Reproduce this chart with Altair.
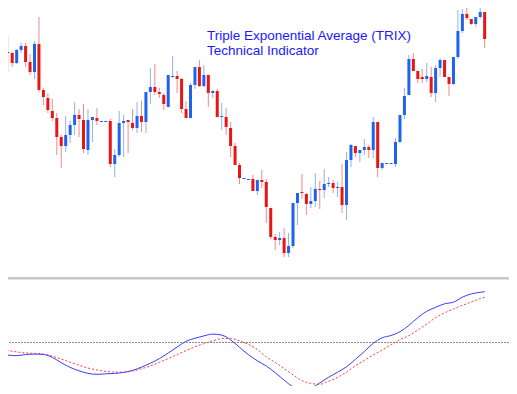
import altair as alt
import pandas as pd

# ---------------- data (price units, bar index) ----------------
bars = list(range(1, 111))
opens = [222, 237, 248, 247, 237, 250, 254, 238, 228, 256,
         210, 202, 189, 182, 163, 154, 165, 175, 185, 180,
         150, 180, 182, 179, 179, 179, 136, 145, 177, 180,
         177, 172, 184, 178, 208, 213, 208, 205, 193, 223,
         224, 221, 191, 182, 215, 233, 214, 225, 207, 209,
         183, 183, 172, 154, 135, 122, 121, 121, 109, 120,
         118, 92, 63, 60, 62, 47, 54, 97, 108, 106,
         96, 99, 111, 110, 117, 117, 112, 113, 95, 140,
         154, 147, 150, 153, 150, 178, 132, 137, 137, 136,
         158, 185, 205, 241, 229, 223, 221, 223, 207, 232,
         240, 223, 216, 243, 269, 286, 281, 276, 283, 288]
highs = [237, 255, 264, 248, 251, 257, 257, 246, 259, 283,
         212, 207, 201, 187, 165, 184, 179, 198, 191, 196,
         191, 183, 192, 179, 179, 181, 151, 189, 185, 180,
         191, 198, 199, 208, 232, 236, 212, 207, 225, 244,
         229, 222, 199, 217, 233, 240, 235, 225, 210, 211,
         197, 192, 178, 157, 137, 122, 121, 125, 120, 130,
         121, 92, 66, 68, 72, 67, 97, 107, 126, 107,
         113, 127, 119, 131, 123, 120, 118, 136, 148, 156,
         154, 150, 161, 155, 183, 178, 137, 137, 137, 162,
         185, 212, 245, 247, 229, 231, 237, 233, 235, 242,
         240, 223, 243, 290, 291, 297, 281, 283, 294, 288]
lows = [215, 229, 228, 233, 236, 247, 233, 225, 221, 208,
        195, 187, 179, 145, 132, 148, 157, 165, 163, 147,
        145, 158, 175, 179, 179, 133, 123, 143, 143, 147,
        170, 167, 168, 167, 196, 205, 202, 190, 193, 222,
        207, 187, 182, 182, 211, 213, 213, 193, 202, 183,
        170, 165, 143, 135, 116, 122, 121, 109, 105, 112,
        77, 61, 50, 55, 43, 43, 52, 75, 101, 85,
        92, 93, 91, 102, 113, 107, 103, 87, 80, 133,
        143, 138, 145, 142, 142, 123, 130, 137, 137, 133,
        157, 181, 205, 229, 217, 217, 218, 203, 198, 223,
        223, 204, 215, 241, 267, 280, 275, 273, 281, 252]
closes = [234, 248, 247, 237, 250, 254, 238, 228, 256, 210,
          203, 190, 182, 163, 154, 165, 175, 185, 181, 151,
          180, 183, 179, 179, 179, 136, 145, 177, 179, 178,
          172, 184, 178, 208, 213, 208, 206, 196, 225, 224,
          221, 191, 182, 215, 233, 214, 225, 207, 209, 183,
          184, 173, 154, 135, 122, 122, 121, 109, 120, 118,
          93, 63, 60, 62, 47, 54, 97, 107, 107, 96,
          99, 111, 110, 116, 117, 112, 113, 95, 140, 155,
          147, 150, 153, 150, 178, 132, 137, 137, 137, 158,
          185, 204, 241, 229, 221, 221, 224, 207, 232, 240,
          223, 216, 243, 269, 286, 282, 276, 283, 288, 261]

trix_bars = [1, 3, 5, 7, 9, 11, 13, 15, 17, 19,
             21, 23, 25, 27, 29, 31, 33, 35, 37, 39,
             41, 43, 45, 47, 49, 51, 53, 55, 57, 59,
             61, 63, 65, 67, 69, 71, 73, 75, 77, 79,
             81, 83, 85, 87, 89, 91, 93, 95, 97, 99,
             101, 103, 105, 107, 109, 110]
trix_values = [-11.8, -12.6, -13.2, -12.0, -11.6, -12.0, -14.8, -20.2, -24.9, -28.3,
               -30.9, -31.8, -31.3, -30.9, -29.9, -27.9, -24.7, -20.7, -16.2, -10.5,
               -4.5, 1.2, 4.2, 6.6, 8.4, 7.4, 2.7, -4.8, -12.2, -18.3,
               -23.5, -30.2, -37.6, -44.3, -47.3, -45.6, -40.5, -34.7, -29.7, -24.3,
               -16.9, -9.0, -0.8, 4.7, 7.0, 10.8, 17.1, 24.9, 31.2, 35.2,
               38.7, 40.3, 45.3, 48.6, 50.2, 50.8]
signal_values = [-5.5, -7.9, -9.4, -10.4, -10.9, -11.5, -13.7, -16.6, -19.7, -22.7,
                 -25.5, -27.4, -28.9, -29.5, -29.7, -28.5, -26.3, -23.4, -19.9, -16.1,
                 -12.1, -8.1, -4.3, -1.2, 1.6, 3.9, 4.1, 1.6, -1.9, -7.0,
                 -14.4, -19.9, -26.0, -32.4, -38.1, -40.9, -41.8, -38.7, -34.9, -29.6,
                 -23.4, -17.8, -12.4, -7.5, -2.3, 2.9, 6.9, 12.4, 18.3, 25.0,
                 29.6, 33.6, 37.2, 40.5, 43.8, 45.2]

title_lines = ["Triple Exponential Average (TRIX)", "Technical Indicator"]

# ---------------- styles ----------------
BLUE = "#1f62ec"
RED = "#e81515"
LINE_BLUE = "#3b3bff"
LINE_RED = "#ff3d2e"
TEXT_BLUE = "#1a1aff"
W, H = 501, 378

candles = pd.DataFrame({"bar": bars, "open": opens, "high": highs,
                        "low": lows, "close": closes})
candles["dir"] = ["up" if c >= o else "down" for o, c in zip(opens, closes)]
candles["body_end"] = [c if c != o else c - 1 for o, c in zip(opens, closes)]

trix_df = pd.DataFrame({"bar": trix_bars, "TRIX": trix_values, "Signal": signal_values})

x_scale = alt.Scale(domain=[3.055, 115.46], nice=False, zero=False)
price_scale = alt.Scale(domain=[-86, 292], nice=False, zero=False)
trix_scale = alt.Scale(domain=[-43.5, 334.5], nice=False, zero=False)
color_scale = alt.Scale(domain=["up", "down"], range=[BLUE, RED])

X = alt.X("bar:Q", scale=x_scale, axis=None)

wicks = alt.Chart(candles).mark_rule(strokeWidth=1, opacity=0.5, clip=True).encode(
    x=X,
    y=alt.Y("low:Q", scale=price_scale, axis=None),
    y2="high:Q",
    color=alt.Color("dir:N", scale=color_scale, legend=None),
)
bodies = alt.Chart(candles).mark_rule(strokeWidth=3, strokeCap="butt", clip=True).encode(
    x=X,
    y=alt.Y("open:Q", scale=price_scale, axis=None),
    y2="body_end:Q",
    color=alt.Color("dir:N", scale=color_scale, legend=None),
)

separator = alt.Chart(pd.DataFrame({"s": [0]})).mark_rule(
    color="#c8c8c8", strokeWidth=2.5
).encode(y=alt.value(270.2))

zero_line = alt.Chart(pd.DataFrame({"zero": [0]})).mark_rule(
    color="#6e6e6e", strokeWidth=1, strokeDash=[2, 1], opacity=0.8
).encode(y=alt.Y("zero:Q", scale=trix_scale, axis=None))

trix_line = alt.Chart(trix_df).mark_line(
    color=LINE_BLUE, strokeWidth=1, clip=True, interpolate="monotone"
).encode(x=X, y=alt.Y("TRIX:Q", scale=trix_scale, axis=None))

signal_line = alt.Chart(trix_df).mark_line(
    color=LINE_RED, strokeWidth=1, strokeDash=[2, 2], clip=True, interpolate="monotone"
).encode(x=X, y=alt.Y("Signal:Q", scale=trix_scale, axis=None))

text1 = alt.Chart(pd.DataFrame({"t": [title_lines[0]]})).mark_text(
    align="left", baseline="alphabetic", font="Liberation Sans", fontSize=13.5, color=TEXT_BLUE
).encode(text="t:N", x=alt.value(199), y=alt.value(32))
text2 = alt.Chart(pd.DataFrame({"t": [title_lines[1]]})).mark_text(
    align="left", baseline="alphabetic", font="Liberation Sans", fontSize=13.5, color=TEXT_BLUE
).encode(text="t:N", x=alt.value(199), y=alt.value(47))

chart = alt.layer(
    separator, zero_line, signal_line, trix_line, wicks, bodies, text1, text2
).resolve_scale(y="independent").properties(
    width=W, height=H, padding=0, autosize=alt.AutoSizeParams(type="none")
).configure_view(stroke=None)

chart.save("out.html", embed_options={"renderer": "svg", "actions": False})
